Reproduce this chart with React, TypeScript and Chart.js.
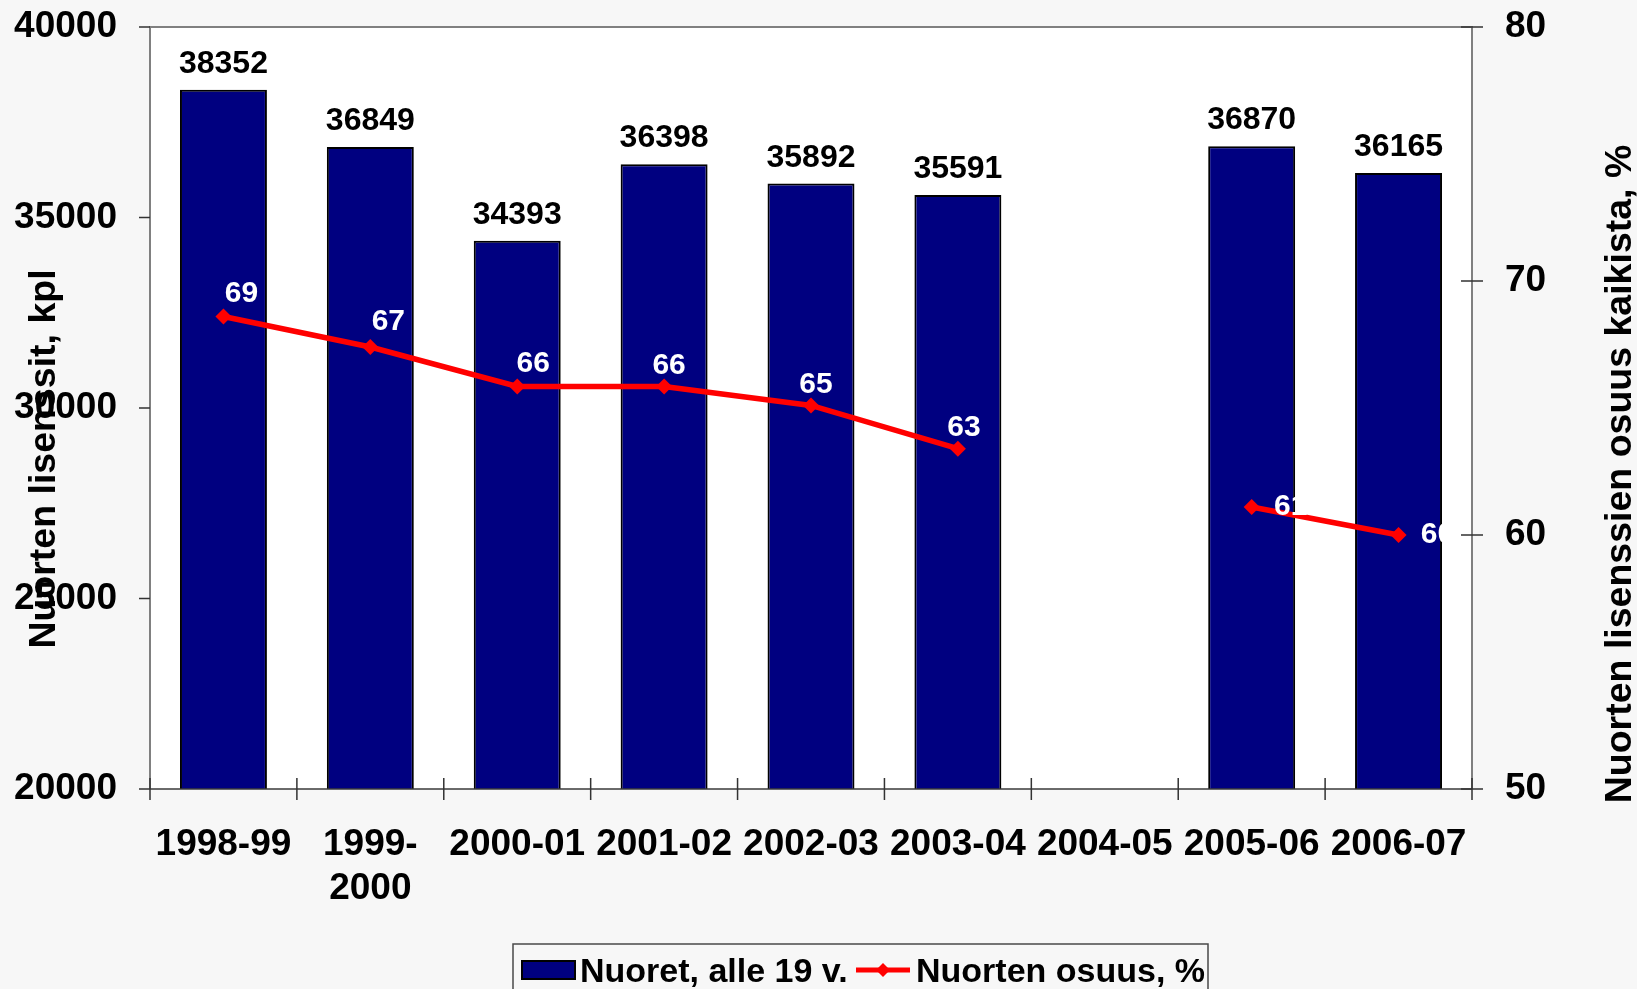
import React, { useEffect, useRef } from 'react';
import { Chart, registerables } from 'chart.js';

Chart.register(...registerables);

// Seasons on the category axis (the second one wraps onto two lines)
const seasons: (string | string[])[] = [
  '1998-99',
  ['1999-', '2000'],
  '2000-01',
  '2001-02',
  '2002-03',
  '2003-04',
  '2004-05',
  '2005-06',
  '2006-07',
];

// Youth licences (count) – no figure for 2004-05
const youthLicences: (number | null)[] = [38352, 36849, 34393, 36398, 35892, 35591, null, 36870, 36165];

// Youth share of all licences (%) – no figure for 2004-05
const youthShare: (number | null)[] = [68.6, 67.4, 65.85, 65.85, 65.1, 63.4, null, 61.1, 60.0];

const leftRange = [20000, 40000];
const leftStep = 5000;
const rightRange = [50, 80];
const rightStep = 10;

const barSeriesName = 'Nuoret, alle 19 v.';
const lineSeriesName = 'Nuorten osuus, %';
const leftAxisTitle = 'Nuorten lisenssit, kpl';
const rightAxisTitle = 'Nuorten lisenssien osuus kaikista, %';

const FONT = '"Liberation Sans", Arial, Helvetica, sans-serif';
const NAVY = '#000080';
const RED = '#ff0000';

// where each share label sits relative to its marker (label centre, px)
const shareLabelNudge: [number, number][] = [
  [18, -23],
  [18, -25],
  [16, -23],
  [5, -21],
  [5, -21],
  [6, -21],
  [0, 0],
  [39, 0],
  [39, 0],
];

function drawDiamond(ctx: CanvasRenderingContext2D, x: number, y: number, r: number) {
  ctx.beginPath();
  ctx.moveTo(x, y - r);
  ctx.lineTo(x + r, y);
  ctx.lineTo(x, y + r);
  ctx.lineTo(x - r, y);
  ctx.closePath();
  ctx.fill();
}

// keep the plot area exactly where the layout padding and fixed axis sizes put it
function noScalePadding(s: any) {
  s.paddingTop = 0;
  s.paddingBottom = 0;
  s.paddingLeft = 0;
  s.paddingRight = 0;
}

// Plot background, axis frame, crossing tick marks, value labels, titles and legend
const decorPlugin = {
  id: 'decor',
  beforeDraw(chart: any) {
    const { ctx, chartArea: a } = chart;
    ctx.save();
    ctx.fillStyle = '#ffffff';
    ctx.fillRect(a.left, a.top, a.right - a.left, a.bottom - a.top);
    ctx.restore();
  },
  afterDatasetsDraw(chart: any) {
    const { ctx, chartArea: a, scales } = chart;
    const x = scales.x;
    const yL = scales.y;
    const yR = scales.y1;
    ctx.save();

    // frame: top and right borders, left axis
    ctx.strokeStyle = '#808080';
    ctx.lineWidth = 2;
    ctx.beginPath();
    ctx.moveTo(a.left, a.bottom);
    ctx.lineTo(a.left, a.top);
    ctx.lineTo(a.right, a.top);
    ctx.lineTo(a.right, a.bottom);
    ctx.stroke();

    // category axis line
    ctx.strokeStyle = '#3a3a3a';
    ctx.lineWidth = 1.5;
    ctx.beginPath();
    ctx.moveTo(a.left, a.bottom);
    ctx.lineTo(a.right, a.bottom);
    ctx.stroke();

    // tick marks
    ctx.strokeStyle = '#333333';
    ctx.lineWidth = 1.5;
    ctx.beginPath();
    for (let v = leftRange[0]; v <= leftRange[1]; v += leftStep) {
      const py = yL.getPixelForValue(v);
      ctx.moveTo(a.left - 11, py);
      ctx.lineTo(a.left, py);
    }
    for (let v = rightRange[0]; v <= rightRange[1]; v += rightStep) {
      const py = yR.getPixelForValue(v);
      ctx.moveTo(a.right - 11, py);
      ctx.lineTo(a.right + 11, py);
    }
    const n = seasons.length;
    for (let i = 0; i <= n; i++) {
      let px: number;
      if (i === 0) px = a.left;
      else if (i === n) px = a.right;
      else px = (x.getPixelForValue(i - 1) + x.getPixelForValue(i)) / 2;
      ctx.moveTo(px, a.bottom - 11);
      ctx.lineTo(px, a.bottom + 11);
    }
    ctx.stroke();

    // bar value labels
    ctx.textAlign = 'center';
    ctx.textBaseline = 'alphabetic';
    ctx.fillStyle = '#000000';
    ctx.font = `bold 32px ${FONT}`;
    const barMeta = chart.getDatasetMeta(0);
    barMeta.data.forEach((el: any, i: number) => {
      const v = youthLicences[i];
      if (v == null) return;
      ctx.fillText(String(v), el.x, el.y - 17);
    });

    // share labels
    ctx.fillStyle = '#ffffff';
    ctx.font = `bold 30px ${FONT}`;
    ctx.textBaseline = 'middle';
    const lineMeta = chart.getDatasetMeta(1);
    lineMeta.data.forEach((el: any, i: number) => {
      const v = youthShare[i];
      if (v == null) return;
      const [dx, dy] = shareLabelNudge[i];
      ctx.fillText(String(Math.round(v)), el.x + dx, el.y + dy);
    });

    ctx.restore();
  },
  afterDraw(chart: any) {
    const { ctx, chartArea: a } = chart;
    ctx.save();

    // axis titles
    ctx.fillStyle = '#000000';
    ctx.font = `bold 37.5px ${FONT}`;
    ctx.textAlign = 'center';
    ctx.textBaseline = 'alphabetic';
    ctx.save();
    ctx.translate(55, 459);
    ctx.rotate(-Math.PI / 2);
    ctx.fillText(leftAxisTitle, 0, 0);
    ctx.restore();
    ctx.save();
    ctx.translate(a.right + 159, 474);
    ctx.rotate(-Math.PI / 2);
    ctx.fillText(rightAxisTitle, 0, 0);
    ctx.restore();

    // legend
    const lx = 513;
    const ly = 944;
    const lw = 695;
    ctx.strokeStyle = '#4a4a4a';
    ctx.lineWidth = 1.5;
    ctx.beginPath();
    ctx.moveTo(lx, chart.height + 20);
    ctx.lineTo(lx, ly);
    ctx.lineTo(lx + lw, ly);
    ctx.lineTo(lx + lw, chart.height + 20);
    ctx.stroke();

    ctx.fillStyle = NAVY;
    ctx.fillRect(522, 961, 53, 18);
    ctx.strokeStyle = '#000000';
    ctx.lineWidth = 2;
    ctx.strokeRect(522, 961, 53, 18);

    ctx.font = `bold 34px ${FONT}`;
    ctx.textAlign = 'left';
    ctx.fillStyle = '#000000';
    ctx.fillText(barSeriesName, 580, 982);

    ctx.strokeStyle = RED;
    ctx.lineWidth = 5;
    ctx.beginPath();
    ctx.moveTo(856, 970);
    ctx.lineTo(910, 970);
    ctx.stroke();
    ctx.fillStyle = RED;
    drawDiamond(ctx, 883, 970, 7);

    ctx.fillStyle = '#000000';
    ctx.fillText(lineSeriesName, 916, 982);

    ctx.restore();
  },
};

export default function App() {
  const canvasRef = useRef<HTMLCanvasElement | null>(null);

  useEffect(() => {
    const canvas = canvasRef.current;
    if (!canvas) return;
    const tickFont = { family: FONT, size: 37, weight: 'bold' as const };
    const plain = (v: any) => String(v);

    const chart = new Chart(canvas, {
      type: 'bar',
      data: {
        labels: seasons,
        datasets: [
          {
            type: 'bar',
            label: barSeriesName,
            data: youthLicences,
            backgroundColor: NAVY,
            borderColor: '#000000',
            borderWidth: 2,
            categoryPercentage: 1,
            barPercentage: 0.592,
            yAxisID: 'y',
            order: 1,
          },
          {
            type: 'line',
            label: lineSeriesName,
            data: youthShare,
            borderColor: RED,
            backgroundColor: RED,
            borderWidth: 5.5,
            pointStyle: 'rectRot',
            pointRadius: 8,
            pointBorderWidth: 0,
            pointBackgroundColor: RED,
            spanGaps: false,
            tension: 0,
            yAxisID: 'y1',
            order: 0,
          },
        ],
      },
      options: {
        responsive: false,
        devicePixelRatio: 1,
        animation: false,
        layout: { padding: { top: 27, left: 0, right: 0, bottom: 0 } },
        plugins: {
          legend: { display: false },
          tooltip: { enabled: false },
        },
        scales: {
          x: {
            offset: true,
            grid: { display: false, drawTicks: false },
            border: { display: false },
            ticks: {
              color: '#000000',
              font: { ...tickFont, size: 37, lineHeight: 1.19 },
              padding: 34,
              maxRotation: 0,
              autoSkip: false,
            },
            afterFit: (s: any) => {
              s.height = 200;
              noScalePadding(s);
            },
          },
          y: {
            position: 'left',
            min: leftRange[0],
            max: leftRange[1],
            grid: { display: false, drawTicks: false },
            border: { display: false },
            ticks: {
              stepSize: leftStep,
              color: '#000000',
              font: tickFont,
              padding: 33,
              callback: plain,
            },
            afterFit: (s: any) => {
              s.width = 150;
              noScalePadding(s);
            },
          },
          y1: {
            position: 'right',
            min: rightRange[0],
            max: rightRange[1],
            grid: { display: false, drawTicks: false },
            border: { display: false },
            ticks: {
              stepSize: rightStep,
              color: '#000000',
              font: tickFont,
              padding: 33,
              callback: plain,
            },
            afterFit: (s: any) => {
              s.width = 165;
              noScalePadding(s);
            },
          },
        },
      },
      plugins: [decorPlugin],
    });

    return () => {
      chart.destroy();
    };
  }, []);

  return (
    <div
      style={{
        position: 'fixed',
        left: 0,
        top: 0,
        width: 1637,
        height: 989,
        background: '#f7f7f7',
        overflow: 'hidden',
      }}
    >
      <canvas ref={canvasRef} width={1637} height={989} style={{ display: 'block' }} />
    </div>
  );
}
